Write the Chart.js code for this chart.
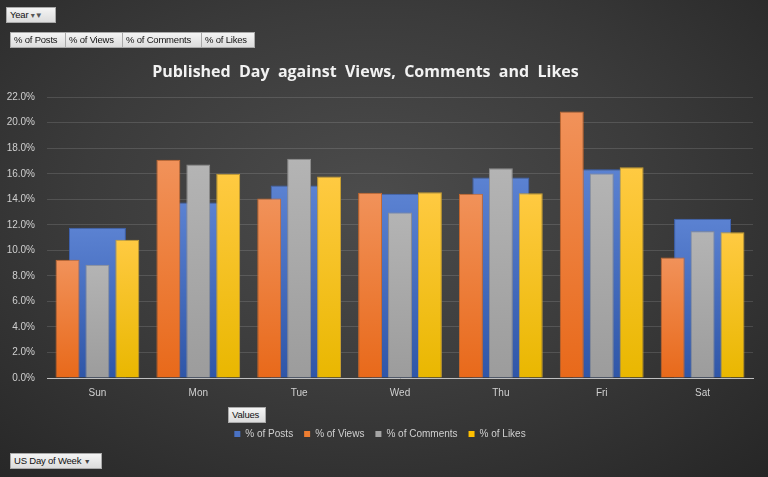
<!DOCTYPE html>
<html>
<head>
<meta charset="utf-8">
<script src="https://cdn.jsdelivr.net/npm/chart.js@4.4.1/dist/chart.umd.min.js"></script>
<style>
html,body{margin:0;padding:0;width:768px;height:477px;overflow:hidden;}
body{background:radial-gradient(ellipse 75% 80% at 48% 42%, #4c4c4c 0%, #3b3b3b 50%, #262626 100%);font-family:"Open Sans","DejaVu Sans",sans-serif;}
#wrap{position:absolute;left:0;top:0;width:768px;height:477px;}
.btn{position:absolute;background:linear-gradient(#f4f4f4,#dcdcdc);border:1px solid #a9a9a9;color:#111;font-family:"Liberation Sans","DejaVu Sans",sans-serif;font-size:9.5px;line-height:14px;height:14px;padding:0 3px;box-sizing:content-box;white-space:nowrap;letter-spacing:-0.2px;}
</style>
</head>
<body>
<div id="wrap"><canvas id="c" width="768" height="477"></canvas></div>
<div class="btn" style="left:6px;top:7px;width:42px;">Year <span style="color:#555;font-size:8px;">&#9662;&#9660;</span></div>
<div class="btn" style="left:10px;top:32px;width:48px;">% of Posts</div>
<div class="btn" style="left:65px;top:32px;width:50px;">% of Views</div>
<div class="btn" style="left:122px;top:32px;width:72px;">% of Comments</div>
<div class="btn" style="left:201px;top:32px;width:46px;">% of Likes</div>
<div class="btn" style="left:228px;top:407px;width:30px;">Values</div>
<div class="btn" style="left:10px;top:453px;width:84px;">US Day of Week <span style="color:#444;font-size:7px;">&#9660;</span></div>
<script>
const categories = ["Sun","Mon","Tue","Wed","Thu","Fri","Sat"];
const seriesNames = ["% of Posts","% of Views","% of Comments","% of Likes"];
const posts    = [11.78, 13.75, 15.08, 14.43, 15.71, 16.36, 12.47];
const views    = [9.26, 17.10, 14.06, 14.51, 14.43, 20.87, 9.45];
const comments = [8.88, 16.73, 17.18, 12.96, 16.44, 16.02, 11.49];
const likes    = [10.84, 16.00, 15.79, 14.56, 14.48, 16.52, 11.42];
const yTicks = [0,2,4,6,8,10,12,14,16,18,20,22];
const titleText = 'Published  Day  against  Views,  Comments  and  Likes';

function grad(top, bottom){
  return function(ctx){
    const chart = ctx.chart;
    const area = chart.chartArea;
    if(!area || ctx.raw === undefined) return bottom;
    const y = chart.scales.y.getPixelForValue(ctx.raw);
    const g = chart.ctx.createLinearGradient(0, y, 0, area.bottom);
    g.addColorStop(0, top);
    g.addColorStop(1, bottom);
    return g;
  };
}

new Chart(document.getElementById('c'), {
  type:'bar',
  data:{
    labels: categories,
    datasets:[
      {label:seriesNames[0], data:posts, grouped:false, backgroundColor:grad('#5b82d2','#2f56a8'), borderColor:'#3d63b4', borderWidth:1, order:2, categoryPercentage:1.0, barPercentage:0.565},
      {label:seriesNames[1], data:views, backgroundColor:grad('#f1925a','#e8691a'), borderColor:'#c8672a', borderWidth:1, order:1, categoryPercentage:0.89, barPercentage:0.8},
      {label:seriesNames[2], data:comments, backgroundColor:grad('#b4b4b4','#9c9c9c'), borderColor:'#8e8e8e', borderWidth:1, order:1, categoryPercentage:0.89, barPercentage:0.8},
      {label:seriesNames[3], data:likes, backgroundColor:grad('#ffca42','#e9b700'), borderColor:'#c9a030', borderWidth:1, order:1, categoryPercentage:0.89, barPercentage:0.8}
    ]
  },
  options:{
    responsive:false,
    animation:false,
    layout:{padding:{left:7,right:15,top:50,bottom:28}},
    plugins:{
      title:{display:true,text:titleText + '\u00a0'.repeat(7),color:'#f2f2f2',font:{family:'"Open Sans", "DejaVu Sans", sans-serif',size:16,weight:'bold'},padding:{top:13,bottom:15}},
      legend:{display:true,position:'bottom',labels:{color:'#d0d0d0',boxWidth:6,boxHeight:6,padding:11,font:{family:'"Liberation Sans", "DejaVu Sans", sans-serif',size:10},
        generateLabels(chart){
          const cols=['#4a72c4','#ed7d31','#a5a5a5','#ffc000'];
          return chart.data.datasets.map((d,i)=>({text:d.label,fillStyle:cols[i],strokeStyle:cols[i],lineWidth:0,fontColor:'#d0d0d0',datasetIndex:i,hidden:false}));
        }}},
      tooltip:{enabled:false}
    },
    scales:{
      x:{offset:true,grid:{display:false,drawTicks:false},border:{color:'#bfbfbf',width:1},
         ticks:{color:'#d0d0d0',padding:9,font:{family:'"Liberation Sans", "DejaVu Sans", sans-serif',size:10}},
         afterFit(scale){scale.height += 10;}},
      y:{min:0,max:22,grid:{color:'rgba(255,255,255,0.13)',drawTicks:false},border:{display:false},
         afterBuildTicks(scale){scale.ticks = yTicks.map(v=>({value:v}));},
         afterFit(scale){scale.width = 40;},
         ticks:{color:'#d0d0d0',padding:12,font:{family:'"Liberation Sans", "DejaVu Sans", sans-serif',size:10},callback:v=>v.toFixed(1)+'%'}}
    }
  }
});
</script>
</body>
</html>
